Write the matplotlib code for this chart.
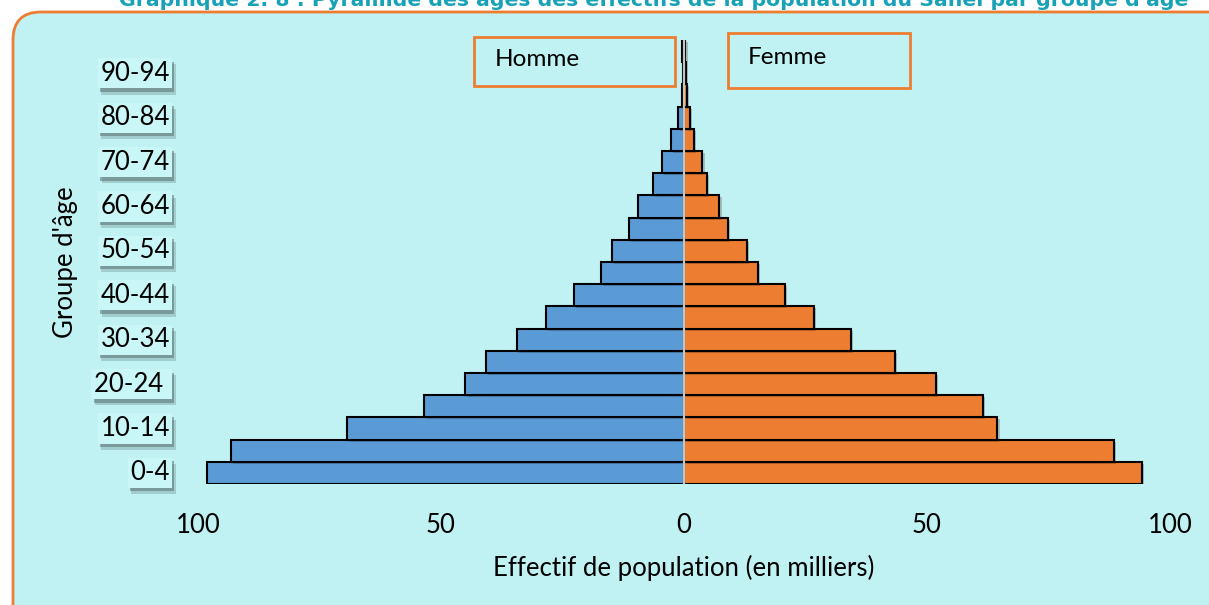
import matplotlib
import matplotlib.pyplot as plt
import matplotlib.patheffects as pe
import numpy as np
from matplotlib.patches import FancyBboxPatch, Rectangle
from matplotlib.transforms import IdentityTransform

plt.rcParams["font.family"] = ["Lato", "DejaVu Sans"]

groups = ["0-4", "5-9", "10-14", "15-19", "20-24", "25-29", "30-34", "35-39",
          "40-44", "45-49", "50-54", "55-59", "60-64", "65-69", "70-74",
          "75-79", "80-84", "85-89", "90-94", "95+"]
hommes = [98.2, 93.3, 69.4, 53.4, 45.1, 40.8, 34.4, 28.4, 22.6, 17.1,
          14.9, 11.3, 9.4, 6.3, 4.6, 2.7, 1.3, 0.5, 0.3, 0.5]
femmes = [94.3, 88.5, 64.5, 61.6, 51.9, 43.4, 34.3, 26.8, 20.8, 15.2,
          12.9, 9.0, 7.3, 4.7, 3.8, 2.1, 1.2, 0.7, 0.4, 0.3]
tick_vals = [-100, -50, 0, 50, 100]
tick_txt = ["100", "50", "0", "50", "100"]
shown = {"0-4": "0-4", "10-14": "10-14", "20-24": "20-24 ", "30-34": "30-34",
         "40-44": "40-44", "50-54": "50-54", "60-64": "60-64",
         "70-74": "70-74", "80-84": "80-84", "90-94": "90-94"}

bg = "#c0f2f3"
blue = "#5b9bd5"
orange = "#ed7d31"
fs = 18.5

fig = plt.figure(figsize=(12.09, 6.05), dpi=100, facecolor="white")

# rounded panel behind the chart
panel = FancyBboxPatch((13, -40), 1240, 593 + 40, boxstyle="round,pad=0,rounding_size=28",
                       transform=IdentityTransform(), facecolor=bg, edgecolor=orange,
                       linewidth=2, zorder=-5)
fig.patches.append(panel)

fig.text(654 / 1209, 1 - 6 / 605, "Graphique 2. 8 : Pyramide des âges des effectifs de la population du Sahel par groupe d'âge",
         ha="center", va="baseline", fontsize=14.7, fontweight="bold", color="#17a2b8",
         family=["DejaVu Sans"])

ax = fig.add_axes([198 / 1209, 1 - 484 / 605, 972 / 1209, 444 / 605])
ax.set_facecolor("none")
y = np.arange(len(groups))
shadow = [pe.SimplePatchShadow(offset=(1.5, -1.5), alpha=0.25), pe.Normal()]
ax.barh(y, -np.array(hommes), height=1.0, color=blue, edgecolor="black",
        linewidth=1.5, path_effects=shadow, zorder=2)
ax.barh(y, femmes, height=1.0, color=orange, edgecolor="black",
        linewidth=1.5, path_effects=shadow, zorder=2)
ax.axvline(0, color="#c4c4c4", linewidth=1.6, zorder=3)

ax.set_xlim(-100, 100)
ax.set_ylim(-0.5, len(groups) - 0.5)
ax.set_xticks(tick_vals)
ax.set_xticklabels(tick_txt, fontsize=fs)
ax.set_yticks([])
ax.tick_params(axis="x", length=0, pad=21)
for s in ax.spines.values():
    s.set_visible(False)
ax.set_xlabel("Effectif de population (en milliers)", fontsize=fs, labelpad=12)

# age group labels in small boxes with a soft drop shadow
box_fx = [pe.SimplePatchShadow(offset=(2.5, -4.5), shadow_rgbFace="#6a8a8c", alpha=0.35),
          pe.SimplePatchShadow(offset=(1.5, -2.5), shadow_rgbFace="#4a5a5c", alpha=0.45),
          pe.Normal()]
for i, g in enumerate(groups):
    if g not in shown:
        continue
    t = ax.text(-0.029, i, shown[g], transform=ax.get_yaxis_transform(),
                ha="right", va="center", fontsize=fs, color="black",
                bbox=dict(boxstyle="square,pad=0.1", facecolor="#c9f6f7",
                          edgecolor="none"))
    t.get_bbox_patch().set_path_effects(box_fx)

fig.text(65 / 1209, 1 - 262 / 605, "Groupe d'âge", rotation=90, ha="center",
         va="center", fontsize=fs)

# legend-like text boxes
fig.patches.append(Rectangle((474 / 1209, 1 - 86 / 605), 201 / 1209, 49 / 605,
                             transform=fig.transFigure, facecolor="none",
                             edgecolor=orange, linewidth=2, zorder=5))
fig.patches.append(Rectangle((728 / 1209, 1 - 88 / 605), 182 / 1209, 55 / 605,
                             transform=fig.transFigure, facecolor="none",
                             edgecolor=orange, linewidth=2, zorder=5))
fig.text(495 / 1209, 1 - 60 / 605, "Homme", ha="left", va="center", fontsize=17.5)
fig.text(748 / 1209, 1 - 58 / 605, "Femme", ha="left", va="center", fontsize=17.5)

fig.savefig("out.png", dpi=100, facecolor="white")
